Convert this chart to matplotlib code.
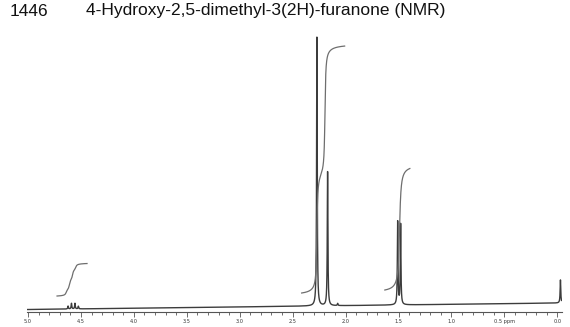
import numpy as np
import matplotlib
matplotlib.use("Agg")
import matplotlib.pyplot as plt
from matplotlib.ticker import MultipleLocator, FixedLocator

# ---- data ----
title_id = "1446"
title_name = "4-Hydroxy-2,5-dimethyl-3(2H)-furanone (NMR)"

# peak lines: chemical shift (ppm) and height (arbitrary intensity units)
peak_ppm = [4.622, 4.590, 4.557, 4.525, 2.271, 2.170, 2.075, 1.508, 1.480, -0.030]
peak_height = [1.1, 2.1, 2.1, 1.0, 100.3, 50.0, 0.8, 31.0, 30.0, 8.6]
peak_halfwidth = 0.0035

# baseline drift (intensity at 5.0 ppm and at 0.0 ppm)
baseline_left = -1.5
baseline_right = 0.93

# integral traces: start/end ppm, start level, step centres and heights
int_start = [4.726, 2.415, 1.629]
int_end = [4.443, 2.009, 1.393]
int_level = [3.54, 4.66, 5.78]
int_centers = [[4.640, 4.610, 4.580, 4.550], [2.271, 2.195], [1.490]]
int_heights = [[2.1, 4.2, 4.2, 2.1], [45.0, 49.0], [48.0]]
int_width = [0.008, 0.006, 0.010]

tick_values = [5.0, 4.5, 4.0, 3.5, 3.0, 2.5, 2.0, 1.5, 1.0, 0.5, 0.0]
tick_labels = ["5.0", "4.5", "4.0", "3.5", "3.0", "2.5", "2.0", "1.5", "1.0", "0.5 ppm", "0.0"]

# ---- build traces ----
ppm = np.linspace(5.01, -0.04, 40000)
spec = baseline_right + (baseline_left - baseline_right) * (ppm / 5.0)
for c, h in zip(peak_ppm, peak_height):
    spec = spec + h * peak_halfwidth**2 / ((ppm - c) ** 2 + peak_halfwidth**2)


def step(p, c, w):
    return 0.5 + np.arctan((c - p) / w) / np.pi


# ---- figure ----
W, H = 570, 327
fig = plt.figure(figsize=(W / 100, H / 100), dpi=100)
px_left, px_right = 27.0, 561.5
px_top, px_axis = 30.0, 312.0
px_zero = 305.5
scale = 2.68
ax = fig.add_axes([px_left / W, (H - px_axis) / H,
                   (px_right - px_left) / W, (px_axis - px_top) / H])
ax.set_xlim(5.01, -0.04)
ax.set_ylim(-(px_axis - px_zero) / scale, (px_zero - px_top) / scale)

ax.plot(ppm, spec, color="#3c3c3c", lw=1.0, solid_joinstyle="round")

for s, e, lv, cs, hs, w in zip(int_start, int_end, int_level, int_centers, int_heights, int_width):
    p = np.linspace(s, e, 600)
    y = np.full_like(p, lv)
    for c, h in zip(cs, hs):
        y = y + h * (step(p, c, w) - step(s, c, w))
    ax.plot(p, y, color="#6e6e6e", lw=0.9)

for side in ("top", "right", "left"):
    ax.spines[side].set_visible(False)
ax.spines["bottom"].set_color("#555555")
ax.spines["bottom"].set_linewidth(0.8)
ax.set_yticks([])
ax.xaxis.set_major_locator(FixedLocator(tick_values))
ax.set_xticklabels(tick_labels)
ax.xaxis.set_minor_locator(MultipleLocator(0.1))
ax.tick_params(axis="x", which="major", direction="out", length=3.5, width=0.6,
               color="#555555", labelsize=3.6, labelcolor="#333333", pad=1.5)
ax.tick_params(axis="x", which="minor", direction="out", length=2.5, width=0.6,
               color="#555555")
ax.patch.set_visible(False)

fig.text(10 / W, 1 - 11 / H, title_id, fontsize=12.5, family="Liberation Sans",
         va="center", ha="left", color="#111111")
fig.text(86 / W, 1 - 11 / H, title_name, fontsize=12.5, family="Liberation Sans",
         va="center", ha="left", color="#111111")

fig.savefig("out.png", dpi=100, facecolor="white")
